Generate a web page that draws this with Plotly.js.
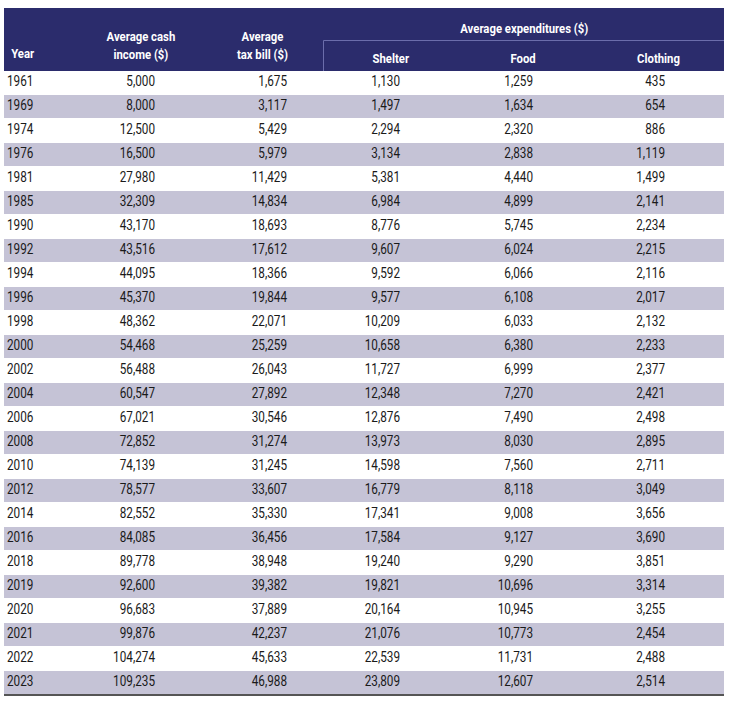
<!DOCTYPE html>
<html>
<head>
<meta charset="utf-8">
<script src="https://cdn.plot.ly/plotly-3.0.1.min.js"></script>
<style>html,body{margin:0;padding:0;background:#fff;}#chart{width:729px;height:701px;}</style>
</head>
<body>
<div id="chart"></div>
<script>
const years = [1961,1969,1974,1976,1981,1985,1990,1992,1994,1996,1998,2000,2002,2004,2006,2008,2010,2012,2014,2016,2018,2019,2020,2021,2022,2023];
const cashIncome = [5000,8000,12500,16500,27980,32309,43170,43516,44095,45370,48362,54468,56488,60547,67021,72852,74139,78577,82552,84085,89778,92600,96683,99876,104274,109235];
const taxBill = [1675,3117,5429,5979,11429,14834,18693,17612,18366,19844,22071,25259,26043,27892,30546,31274,31245,33607,35330,36456,38948,39382,37889,42237,45633,46988];
const shelter = [1130,1497,2294,3134,5381,6984,8776,9607,9592,9577,10209,10658,11727,12348,12876,13973,14598,16779,17341,17584,19240,19821,20164,21076,22539,23809];
const food = [1259,1634,2320,2838,4440,4899,5745,6024,6066,6108,6033,6380,6999,7270,7490,8030,7560,8118,9008,9127,9290,10696,10945,10773,11731,12607];
const clothing = [435,654,886,1119,1499,2141,2234,2215,2116,2017,2132,2233,2377,2421,2498,2895,2711,3049,3656,3690,3851,3314,3255,2454,2488,2514];
const headerTop = ["Average expenditures ($)"];
const headerCols = ["Year","Average cash<br>income ($)","Average<br>tax bill ($)","Shelter","Food","Clothing"];

// layout/style constants
const FONT = 'Roboto, "Liberation Sans", sans-serif';
const SQUEEZE = 0.84; // horizontal condensing of glyphs
const W = 729, H = 701;
const hdrY0 = 8, hdrY1 = 71, hdrMid = 40.5, tblX0 = 4, tblX1 = 724, subX0 = 323.5;
const rowH = 24;
const numColRight = [155, 287, 400, 533, 665];
const yearX = 7;
const hdrCenters = [7, 141, 262, 391, 523, 658];
const navy = '#2b2c6c', stripe = '#c5c3d6';

const fmt = v => v.toLocaleString('en-US');
const rowY = i => hdrY1 + rowH * i + rowH / 2;

const traces = [];
traces.push({
  type: 'scatter', mode: 'text', hoverinfo: 'skip', showlegend: false,
  x: years.map(() => yearX), y: years.map((_, i) => rowY(i)),
  text: years.map(String), textposition: 'middle right',
  textfont: {family: FONT, size: 14, color: '#1a1a1a'}
});
const numCols = [cashIncome, taxBill, shelter, food, clothing];
numCols.forEach((col, c) => {
  traces.push({
    type: 'scatter', mode: 'text', hoverinfo: 'skip', showlegend: false,
    x: col.map(() => numColRight[c]), y: col.map((_, i) => rowY(i)),
    text: col.map(fmt), textposition: 'middle left',
    textfont: {family: FONT, size: 14, color: '#1a1a1a'}
  });
});

const shapes = [];
shapes.push({type: 'rect', xref: 'x', yref: 'y', x0: tblX0, x1: tblX1, y0: hdrY0, y1: hdrY1, fillcolor: navy, line: {width: 0}, layer: 'below'});
shapes.push({type: 'line', xref: 'x', yref: 'y', x0: subX0, x1: tblX1, y0: hdrMid, y1: hdrMid, line: {color: '#6b6dab', width: 1}});
shapes.push({type: 'line', xref: 'x', yref: 'y', x0: subX0, x1: subX0, y0: hdrMid, y1: hdrY1, line: {color: '#6b6dab', width: 1}});
years.forEach((_, i) => {
  if (i % 2 === 1) {
    const t = hdrY1 + rowH * i;
    shapes.push({type: 'rect', xref: 'x', yref: 'y', x0: tblX0, x1: tblX1, y0: t, y1: t + rowH - 1, fillcolor: stripe, line: {width: 0}, layer: 'below'});
  }
});
const bottom = hdrY1 + rowH * years.length;
shapes.push({type: 'line', xref: 'x', yref: 'y', x0: tblX0, x1: tblX1, y0: bottom, y1: bottom, line: {color: '#555', width: 2}});

const annotations = [];
const hdrFont = {family: FONT, size: 13.5, color: '#fff', weight: 'bold'};
annotations.push({xref: 'x', yref: 'y', x: 524, y: 28, text: '<b>' + headerTop[0] + '</b>', showarrow: false, font: hdrFont, xanchor: 'center', yanchor: 'middle'});
headerCols.forEach((h, c) => {
  const twoLine = h.indexOf('<br>') >= 0;
  annotations.push({
    xref: 'x', yref: 'y', x: hdrCenters[c], y: c === 0 ? 53 : (twoLine ? 45 : 58),
    text: '<b>' + h + '</b>', showarrow: false, font: hdrFont,
    xanchor: c === 0 ? 'left' : 'center', yanchor: 'middle', align: 'center'
  });
});

const layout = {
  width: W, height: H, margin: {l: 0, r: 0, t: 0, b: 0},
  paper_bgcolor: '#fff', plot_bgcolor: '#fff',
  xaxis: {range: [0, W], visible: false, fixedrange: true},
  yaxis: {range: [H, 0], visible: false, fixedrange: true},
  shapes: shapes, annotations: annotations, showlegend: false
};
Plotly.newPlot('chart', traces, layout, {displayModeBar: false, staticPlot: true}).then(gd => {
  // condense glyphs horizontally around each text's anchor point
  gd.querySelectorAll('svg text').forEach(t => {
    const x = parseFloat(t.getAttribute('x')) || 0;
    const prev = t.getAttribute('transform') || '';
    t.setAttribute('transform', prev + ` translate(${x * (1 - SQUEEZE)},0) scale(${SQUEEZE},1)`);
  });
});
</script>
</body>
</html>
